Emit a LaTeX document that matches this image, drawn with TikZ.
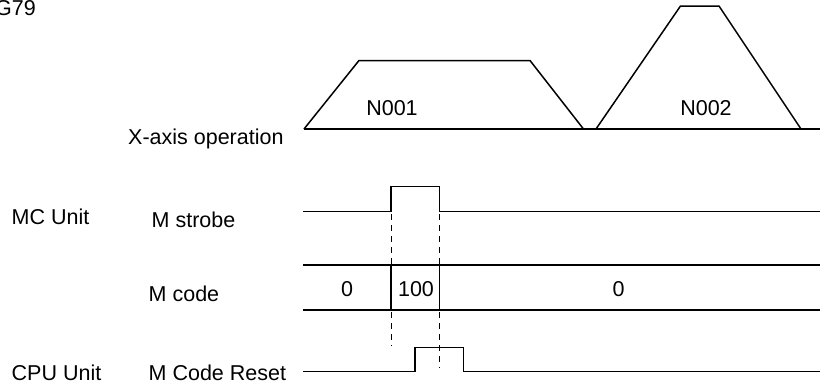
\documentclass[tikz,border=0pt]{standalone}
\usepackage{fontspec}
\setmainfont{Liberation Sans}
\begin{document}
\begin{tikzpicture}[x=1pt,y=-1pt,
  lbl/.style={inner sep=0pt,anchor=base west,font=\fontsize{21.5}{25}\selectfont},
  clbl/.style={inner sep=0pt,anchor=base,font=\fontsize{21.5}{25}\selectfont},
  wave/.style={line width=1.5pt,line join=miter},
  guide/.style={line width=0.7pt,dash pattern=on 6pt off 5pt}]
\useasboundingbox (0,0) rectangle (820,384);
% title (cut off at the left edge, as in the reference)
\node[inner sep=0pt,anchor=base east,font=\fontsize{21.5}{25}\selectfont] (title) at (36,15) {G79};
% row labels
\node[lbl] (xop) at (128,144) {X-axis operation};
\node[lbl] (mcu) at (11.5,224.5) {MC Unit};
\node[lbl] (mstr) at (151.5,227) {M strobe};
\node[lbl] (mcode) at (148.5,301) {M code};
\node[lbl] (cpu) at (11.5,380.5) {CPU Unit};
\node[lbl] (mres) at (148.5,380.5) {M Code Reset};
% X-axis operation
\draw[wave] (304,129) -- (820,129);
\draw[wave] (304,129) -- (359,60.5) -- (530,60.5) -- (583.5,129);
\draw[wave] (596,129) -- (680.5,6) -- (719,6) -- (801,129);
\node[clbl] (n1) at (392,115) {N001};
\node[clbl] (n2) at (706,115) {N002};
% M strobe
\draw[wave] (303,211.5) -- (391,211.5) -- (391,186.5) -- (439.5,186.5) -- (439.5,211.5) -- (820,211.5);
% M code bus
\draw[wave] (303,265) -- (391,265) -- (391,310) -- (303,310);
\draw[wave] (391,265) -- (439.5,265) -- (439.5,310) -- (391,310);
\draw[wave] (820,265) -- (439.5,265) (439.5,310) -- (820,310);
\node[clbl] (v0a) at (347,296) {0};
\node[clbl] (v100) at (416,296) {100};
\node[clbl] (v0b) at (618.5,296) {0};
% guides
\draw[guide] (391,214) -- (391,265);
\draw[guide] (439.5,214) -- (439.5,265);
\draw[guide] (391,312) -- (391,346);
\draw[guide] (439.5,312) -- (439.5,368);
% M Code Reset
\draw[wave] (303,371.5) -- (415,371.5) -- (415,347.5) -- (463.5,347.5) -- (463.5,371.5) -- (820,371.5);
\end{tikzpicture}
\end{document}
